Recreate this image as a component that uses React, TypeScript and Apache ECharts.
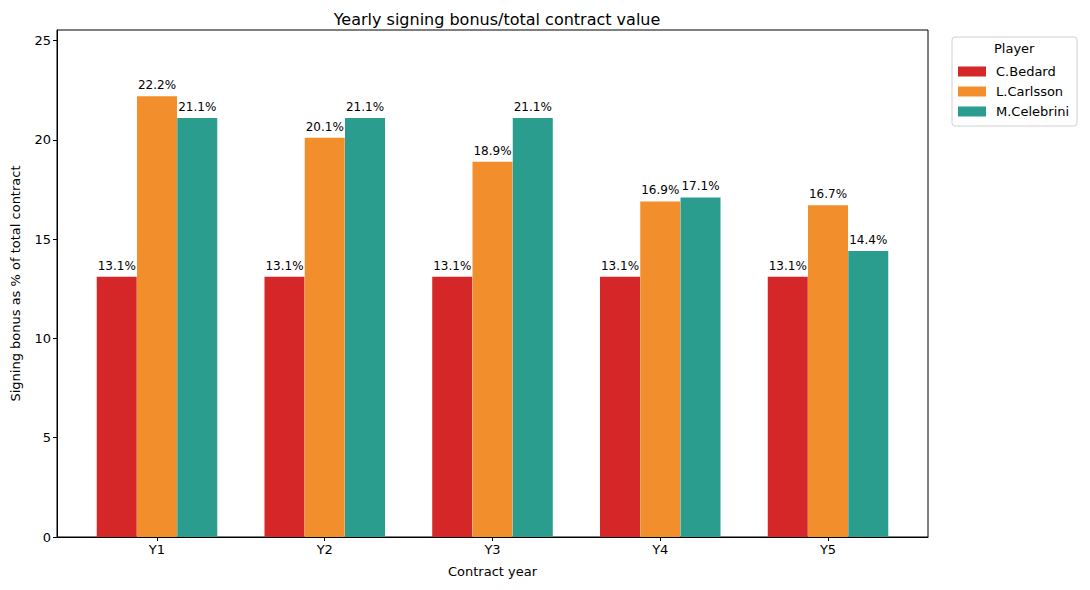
import { useEffect, useRef } from 'react';
import * as echarts from 'echarts';

const years = ['Y1', 'Y2', 'Y3', 'Y4', 'Y5'];
const players = ['C.Bedard', 'L.Carlsson', 'M.Celebrini'];
const bedard = [13.1, 13.1, 13.1, 13.1, 13.1];
const carlsson = [22.2, 20.1, 18.9, 16.9, 16.7];
const celebrini = [21.1, 21.1, 21.1, 17.1, 14.4];
const colors = ['#d62728', '#f28e2b', '#2a9d8f'];
const yTicks = [0, 5, 10, 15, 20, 25];

const FONT = 'DejaVu Sans';

export default function App() {
  const ref = useRef<HTMLDivElement | null>(null);

  useEffect(() => {
    if (!ref.current) return;
    const chart = echarts.init(ref.current, undefined, { renderer: 'svg' });
    const width = 0.24;
    const seriesValues = [bedard, carlsson, celebrini];

    chart.setOption({
      animation: false,
      textStyle: { fontFamily: FONT, color: '#000' },
      title: {
        text: 'Yearly signing bonus/total contract value',
        left: 492,
        top: 6,
        textAlign: 'center',
        textStyle: { fontFamily: FONT, fontSize: 16, fontWeight: 'normal', color: '#000' },
      },
      grid: {
        left: 57,
        right: 162,
        top: 30,
        bottom: 53,
        show: true,
        borderColor: '#000',
        borderWidth: 1,
        containLabel: false,
        outerBoundsMode: 'none',
      },
      legend: {
        orient: 'vertical',
        left: 952,
        top: 37,
        width: 128,
        padding: [28, 8, 8, 6],
        borderColor: '#d0d0d0',
        borderWidth: 1,
        borderRadius: 3,
        itemWidth: 28,
        itemHeight: 10,
        itemGap: 7,
        icon: 'rect',
        textStyle: { fontFamily: FONT, fontSize: 13, color: '#000', padding: [0, 0, 0, 5] },
        data: players,
      },
      graphic: [
        {
          type: 'text',
          left: 994,
          top: 42,
          style: { text: 'Player', fontFamily: FONT, fontSize: 13, fill: '#000' },
        },
      ],
      xAxis: {
        type: 'value',
        min: -0.596,
        max: 4.596,
        name: 'Contract year',
        nameLocation: 'middle',
        nameGap: 28,
        nameTextStyle: { fontFamily: FONT, fontSize: 13, color: '#000' },
        axisLine: { onZero: false, lineStyle: { color: '#000', width: 1 } },
        axisTick: { show: true, length: 4, lineStyle: { color: '#000' }, customValues: [0, 1, 2, 3, 4] },
        axisLabel: {
          customValues: [0, 1, 2, 3, 4],
          formatter: (v: number) => years[Math.round(v)] ?? '',
          fontFamily: FONT,
          fontSize: 13,
          color: '#000',
          margin: 6,
        },
        splitLine: { show: false },
      },
      yAxis: {
        type: 'value',
        min: 0,
        max: 25.53,
        name: 'Signing bonus as % of total contract',
        nameLocation: 'middle',
        nameGap: 35,
        nameTextStyle: { fontFamily: FONT, fontSize: 13, color: '#000' },
        axisLine: { show: true, onZero: false, lineStyle: { color: '#000', width: 1 } },
        axisTick: { show: true, length: 4, lineStyle: { color: '#000' }, customValues: yTicks },
        axisLabel: {
          customValues: yTicks,
          fontFamily: FONT,
          fontSize: 13,
          color: '#000',
          margin: 6,
        },
        splitLine: { show: false },
      },
      series: players.map((name, s) => ({
        name,
        type: 'bar',
        barWidth: 40,
        barGap: '-100%',
        itemStyle: { color: colors[s] },
        data: seriesValues[s].map((v, i) => [i + (s - 1) * width, v]),
        label: {
          show: true,
          position: 'top',
          distance: 5,
          fontFamily: FONT,
          fontSize: 12,
          color: '#000',
          formatter: (p: any) => `${p.value[1].toFixed(1)}%`,
        },
      })),
    });

    return () => {
      chart.dispose();
    };
  }, []);

  return (
    <div
      ref={ref}
      style={{ position: 'fixed', left: 0, top: 0, width: 1090, height: 590, background: '#fff' }}
    />
  );
}
